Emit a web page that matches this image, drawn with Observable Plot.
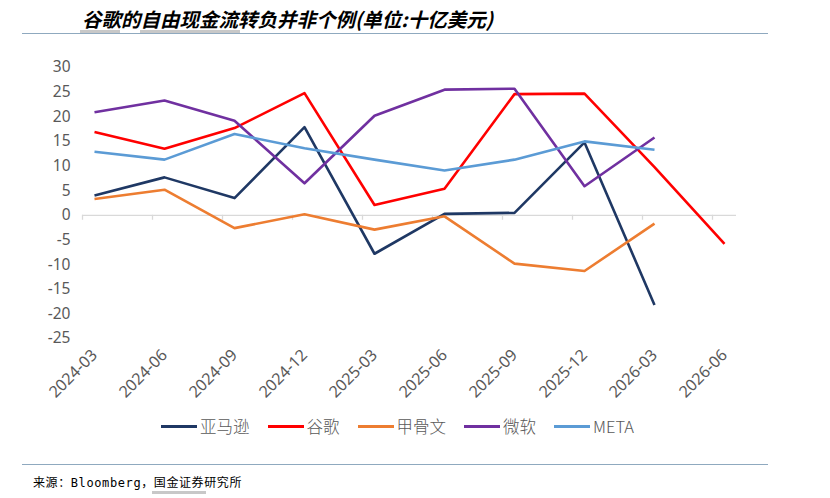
<!DOCTYPE html>
<html>
<head>
<meta charset="utf-8">
<script src="https://cdn.jsdelivr.net/npm/d3@7"></script>
<script src="https://cdn.jsdelivr.net/npm/@observablehq/plot@0.6"></script>
<style>
  html, body { margin: 0; padding: 0; background: #fff; }
  #wrap { position: relative; width: 830px; height: 498px; overflow: hidden; font-family: "Noto Sans CJK SC", "Noto Sans", sans-serif; }
  #title { position: absolute; left: 82px; top: 4px; font-size: 19.5px; font-weight: bold; font-style: italic; color: #000; white-space: nowrap; }
  .hline { position: absolute; left: 22px; width: 746px; height: 0; border-top: 1.5px solid #8fa9bf; }
  .mark { position: absolute; height: 3px; background: #c8c8c8; }
  #chart { position: absolute; left: 0; top: 0; }
  #legend { position: absolute; top: 414px; left: 161px; display: flex; font-size: 16.5px; font-weight: 300; color: #595959; }
  .item { display: flex; align-items: center; margin-right: 18px; }
  .sw { display: inline-block; width: 36px; height: 3px; margin-right: 3px; }
  #source { position: absolute; left: 33px; top: 473px; font-size: 12px; letter-spacing: 0.6px; color: #000; font-family: "DejaVu Sans Mono", "Noto Sans CJK SC", monospace; white-space: nowrap; }
</style>
</head>
<body>
<div id="wrap">
  <div id="title">谷歌的自由现金流转负并非个例(单位:十亿美元)</div>
  <div class="mark" style="left:80px; top:30px; width:40px;"></div>
  <div class="mark" style="left:140px; top:30px; width:100px;"></div>
  <div class="hline" style="top:33px;"></div>
  <div id="chart"></div>
  <div id="legend"></div>
  <div class="hline" style="top:464px;"></div>
  <div id="source">来源：Bloomberg，国金证券研究所</div>
  <div class="mark" style="left:152px; top:491px; width:54px;"></div>
</div>
<script>
// ---- data ----
const periods = ["2024-03","2024-06","2024-09","2024-12","2025-03","2025-06","2025-09","2025-12","2026-03","2026-06"];
const seriesNames = ["亚马逊","谷歌","甲骨文","微软","META"];
const seriesColors = ["#1f3864","#ff0000","#ed7d31","#7030a0","#5b9bd5"];
const amazon    = [4.0, 7.7, 3.5, 17.9, -7.8, 0.3, 0.5, 14.8, -18.2, null];
const google    = [16.9, 13.5, 17.7, 24.8, 2.1, 5.4, 24.6, 24.7, 9.8, -5.8];
const oracle    = [3.3, 5.2, -2.6, 0.2, -2.9, -0.2, -9.8, -11.3, -1.7, null];
const microsoft = [20.9, 23.3, 19.2, 6.5, 20.2, 25.5, 25.7, 5.9, 15.8, null];
const meta      = [12.9, 11.3, 16.5, 13.6, 11.3, 9.1, 11.3, 15.0, 13.3, null];
const yTicks = [-25, -20, -15, -10, -5, 0, 5, 10, 15, 20, 25, 30];

const seriesValues = [amazon, google, oracle, microsoft, meta];
const rows = [];
seriesNames.forEach((name, si) => {
  seriesValues[si].forEach((v, i) => {
    if (v !== null) rows.push({series: name, period: periods[i], value: v});
  });
});

const labelFont = "'Noto Sans', 'Noto Sans CJK SC', sans-serif";

const chart = Plot.plot({
  width: 830,
  height: 405,
  marginTop: 67,
  marginBottom: 67,
  marginLeft: 82,
  marginRight: 94,
  style: {fontFamily: labelFont, background: "transparent"},
  x: {type: "point", domain: periods, padding: 0.171},
  y: {domain: [-25, 30]},
  color: {domain: seriesNames, range: seriesColors},
  marks: [
    Plot.ruleY([0], {stroke: "#d9d9d9", strokeWidth: 1.3}),
    Plot.ruleX(periods, {x: d => d, y1: 0, y2: -1, dx: -12, stroke: "#d9d9d9", strokeWidth: 1.3}),
    Plot.axisY({ticks: yTicks, tickSize: 0, tickPadding: 12, tickFormat: d => String(d), fontSize: 15.5, fill: "#595959", label: null}),
    Plot.axisX({tickRotate: -45, tickSize: 0, tickPadding: 14, fontSize: 16, fill: "#595959", label: null}),
    Plot.line(rows, {x: "period", y: "value", z: "series", stroke: "series", strokeWidth: 2.6, strokeLinejoin: "round", strokeLinecap: "butt"})
  ]
});
document.getElementById("chart").appendChild(chart);

const legend = document.getElementById("legend");
seriesNames.forEach((name, i) => {
  const item = document.createElement("div");
  item.className = "item";
  const sw = document.createElement("span");
  sw.className = "sw";
  sw.style.background = seriesColors[i];
  const t = document.createElement("span");
  t.textContent = name;
  item.appendChild(sw);
  item.appendChild(t);
  legend.appendChild(item);
});
</script>
</body>
</html>
